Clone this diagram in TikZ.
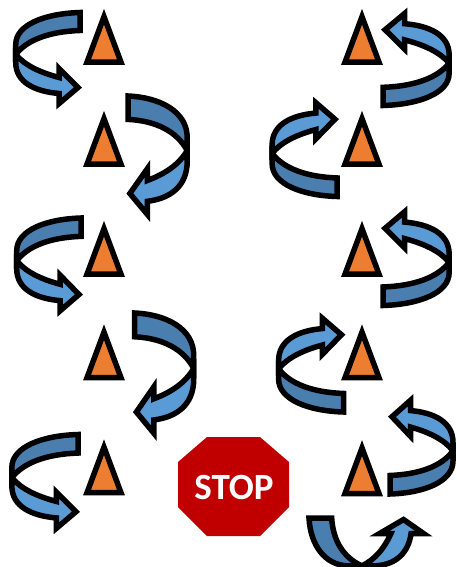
\documentclass[tikz,border=0pt]{standalone}
\usepackage{fontspec}
\newfontfamily\signfont{Carlito}
\definecolor{TurnDark}{HTML}{4A7EAF}
\definecolor{TurnLight}{HTML}{5B9BD5}
\definecolor{ConeOrange}{HTML}{ED7D31}
\definecolor{StopRed}{HTML}{C00000}
\usetikzlibrary{arrows.meta,positioning}
\tikzset{
  outline/.style={draw=black,line width=5.5pt,miter limit=10,line join=miter},
  pics/cone/.style={code={
    \path[outline,fill=ConeOrange] (0,0) -- (17,45.5) -- (-17,45.5) -- cycle;
  }},
  pics/turn/.style={code={
    \path[outline,fill=TurnDark] (0,0) .. controls (34,1) and (63,12) .. (63,32)
      -- (63,42) .. controls (52,27) and (29,19) .. (0,18) -- cycle;
    \path[outline,fill=TurnLight] (63,42) .. controls (54,53) and (39,60) .. (20.5,65)
      -- (20.5,56) -- (2,75) -- (20.5,91) -- (20.5,81)
      .. controls (44,79) and (63,70) .. (63,50) -- cycle;
  }}
}
\begin{document}
\begin{tikzpicture}[x=1pt,y=-1pt]
  \useasboundingbox (0,0) rectangle (457,567);
  % Left column
  \pic (TL1) [xscale=-1.02] at (80,12.5) {turn};
  \pic (CL1) at (104,16.7) {cone};
  \pic (TL2) [xscale=.94,yscale=1.3] at (128,96) {turn};
  \pic (CL2) at (104,118.7) {cone};
  \pic (TL3) [xscale=-1.02,yscale=1.02] at (81,218) {turn};
  \pic (CL3) at (104,228.7) {cone};
  \pic (TL4) [xscale=.94,yscale=1.32] at (134.5,313) {turn};
  \pic (CL4) at (104,332.2) {cone};
  \pic (TL5) [xscale=-1.05,yscale=1.03] at (78,434.5) {turn};
  \pic (CL5) at (104,447.2) {cone};
  % Right column
  \pic (TR1) [xscale=1.05,yscale=-1.01] at (383,105.5) {turn};
  \pic (CR1) at (362,16.7) {cone};
  \pic (TR2) [xscale=-1.03,yscale=-1.03] at (337,196.5) {turn};
  \pic (CR2) at (362,118.7) {cone};
  \pic (TR3) [xscale=1.05,yscale=-1.03] at (383,305.5) {turn};
  \pic (CR3) at (362,228.7) {cone};
  \pic (TR4) [xscale=-1.03,yscale=-1.03] at (343.5,412) {turn};
  \pic (CR4) at (362,332.2) {cone};
  \pic (TR5) [yscale=-1.03] at (390,494) {turn};
  \pic (CR5) at (362,448) {cone};
  % Arrow under the last cone
  \pic (TB) [cm={0,-.76,-1.26,0,(0,0)}] at (309,518) {turn};
  % Stop sign
  \fill[StopRed] (207,437) -- (260,437) -- (289,462) -- (289,507)
    -- (260,536) -- (207,536) -- (178,507) -- (178,462) -- cycle;
  \node[text=white,inner sep=0pt,font=\signfont\bfseries\fontsize{37}{37}\selectfont]
    (stoptext) at (234,487) {STOP};
\end{tikzpicture}
\end{document}
